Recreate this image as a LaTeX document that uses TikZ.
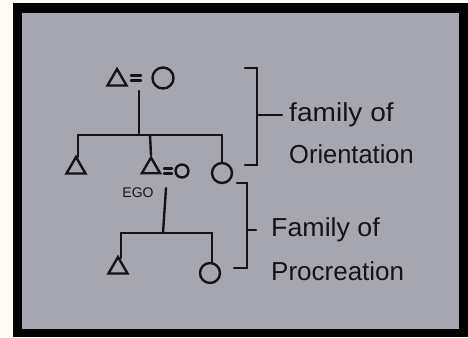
\documentclass[tikz,border=0pt]{standalone}
\usepackage{fontspec}
\setmainfont{Liberation Sans}
\usetikzlibrary{shapes.geometric}
\definecolor{paper}{HTML}{FDFBF3}
\definecolor{board}{HTML}{A5A6B0}
\definecolor{ink}{HTML}{141418}
\tikzset{
  line/.style={draw=ink, line width=2.4pt, line cap=round},
  tri/.style={regular polygon, regular polygon sides=3, draw=ink, line width=2.4pt, inner sep=0pt, minimum size=#1},
  tri/.default=23pt,
  circ/.style={circle, draw=ink, line width=2.4pt, inner sep=0pt, minimum size=#1},
  circ/.default=21pt,
  hand/.style={text=ink, font=\fontsize{26}{26}\selectfont, inner sep=0pt, anchor=west},
}
\begin{document}
\begin{tikzpicture}[x=1pt, y=-1pt]
\useasboundingbox (0,0) rectangle (468,337);
% background
\fill[paper] (0,0) rectangle (468,337);
\fill[black] (13,3) rectangle (468,337);
\fill[board] (22,13) rectangle (459,329);

% top couple
\node[tri=22pt] (f1) at (117,80) {};
\node[circ=21pt] (m1) at (163,78) {};
\draw[line] (131,75.5) -- (141,75.5) (131,80.5) -- (141,80.5);
\coordinate (d1) at (139,91);
\coordinate (h1) at (139,135);
\coordinate (hl) at (78,135);
\coordinate (hr) at (222,135);
\coordinate (hm) at (150,135);
\draw[line] (d1) -- (h1);
\draw[line] (hl) -- (hr);

% siblings
\node[tri=22pt] (s1) at (76,168) {};
\node[tri=21pt] (ego) at (151,168) {};
\node[circ=13pt] (w) at (182,171) {};
\draw[line] (164,168.5) -- (172,168.5) (164,173.5) -- (172,173.5);
\node[circ=20pt] (s3) at (222,173) {};
\draw[line] (hl) -- (78,157);
\draw[line] (hm) -- (ego.north);
\draw[line] (hr) -- (s3.north);
\node[text=ink, font=\fontsize{14}{14}\selectfont, inner sep=0pt] (egolbl) at (138,193) {EGO};

% procreation
\coordinate (d2) at (166,188);
\coordinate (h2) at (163,233);
\coordinate (hl2) at (121,233);
\coordinate (hr2) at (212,233);
\draw[line] (d2) -- (h2);
\draw[line] (hl2) -- (hr2);
\node[tri=22pt] (c1) at (118,268) {};
\node[circ=20pt] (c2) at (210,273) {};
\draw[line] (hl2) -- (121,258);
\draw[line] (hr2) -- (212,263);

% brackets
\coordinate (b1t) at (257,68);
\coordinate (b1b) at (257,165);
\coordinate (b1m) at (257,115);
\coordinate (b1e) at (282,115);
\draw[line] (245,68) -- (b1t) -- (b1b) -- (245,165);
\draw[line] (b1m) -- (b1e);
\coordinate (b2t) at (247,183);
\coordinate (b2b) at (247,268);
\coordinate (b2m) at (247,230);
\coordinate (b2e) at (256,230);
\draw[line] (237,183) -- (b2t) -- (b2b) -- (234,268);
\draw[line] (b2m) -- (b2e);

% labels
\node[hand, xscale=1.08] (t1) at (289,115) {family of};
\node[hand, xscale=0.98] (t2) at (289,154) {Orientation};
\node[hand, xscale=1.03] (t3) at (271,230) {Family of};
\node[hand, xscale=1.0] (t4) at (271,271) {Procreation};
\end{tikzpicture}
\end{document}
